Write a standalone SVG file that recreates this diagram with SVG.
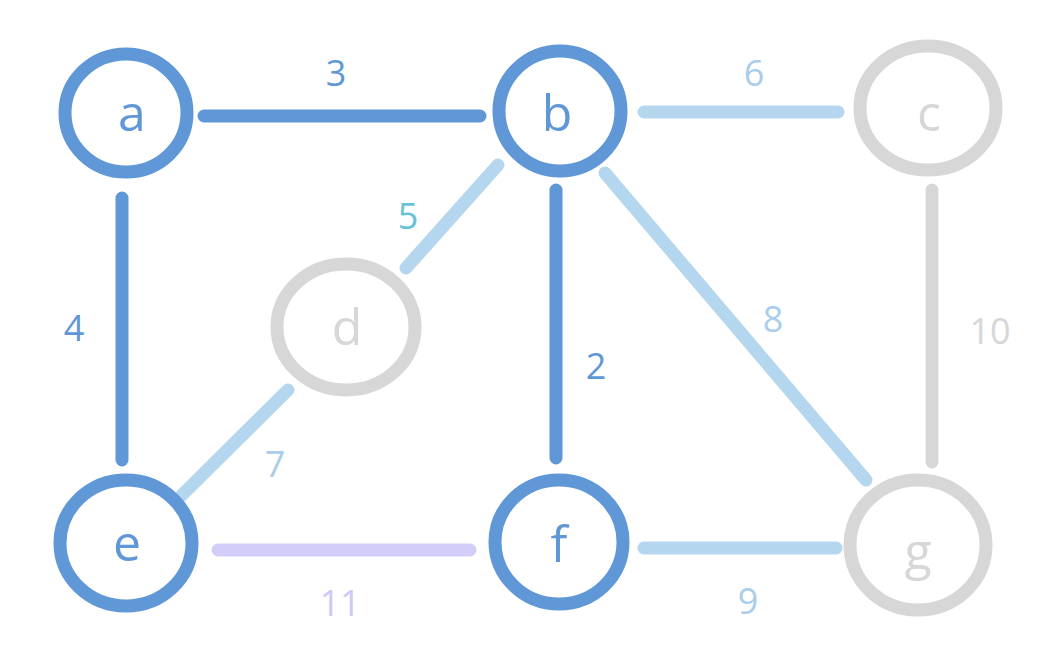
<svg xmlns="http://www.w3.org/2000/svg" width="1052" height="668" viewBox="0 0 1052 668">
<style>
.ring{fill:none;stroke-width:13;stroke-linecap:round;stroke-linejoin:round}
.dk{stroke:#5f97d7}
.gr{stroke:#d7d7d7}
.e{fill:none;stroke-width:13;stroke-linecap:round}
.lb{stroke:#b5d6ef}
.pu{stroke:#d2cdf9}
text{font-family:"Open Sans","Liberation Sans",sans-serif;text-anchor:middle;dominant-baseline:central}
.nl{font-size:50px}
.el{font-size:36px}
.tdk{fill:#5f97d7}
.tlb{fill:#a9cdeb}
.tgr{fill:#d7d7d7}
.tte{fill:#68c3d9}
.tpu{fill:#cfc9fa}
</style>
<rect width="1052" height="668" fill="#ffffff"/>
<g id="connectors">
<line class="e dk" x1="204" y1="116" x2="480" y2="116"/>
<line class="e lb" x1="644" y1="112" x2="838" y2="112"/>
<line class="e dk" x1="122" y1="198" x2="122" y2="460"/>
<line class="e lb" x1="498" y1="165" x2="406" y2="268"/>
<line class="e dk" x1="556" y1="190" x2="556" y2="458"/>
<line class="e lb" x1="605" y1="173" x2="866" y2="480"/>
<line class="e gr" x1="932" y1="190" x2="932" y2="462"/>
<line class="e lb" x1="288" y1="390" x2="182" y2="495"/>
<line class="e pu" x1="218" y1="550" x2="470" y2="550"/>
<line class="e lb" x1="644" y1="548" x2="836" y2="548"/>
<text class="el tdk" x="336" y="72">3</text>
<text class="el tlb" x="754" y="72">6</text>
<text class="el tte" x="408" y="215">5</text>
<text class="el tdk" x="74" y="327">4</text>
<text class="el tdk" x="596" y="365">2</text>
<text class="el tlb" x="773" y="318">8</text>
<text class="el tgr" x="990" y="330">10</text>
<text class="el tlb" x="275" y="463">7</text>
<text class="el tpu" x="340" y="602">11</text>
<text class="el tlb" x="748" y="600">9</text>
</g>
<g id="node-a">
<ellipse class="ring dk" cx="126" cy="113" rx="61" ry="59"/>
<text class="nl tdk" x="132" y="112">a</text>
</g>
<g id="node-b">
<ellipse class="ring dk" cx="560" cy="111" rx="61" ry="60"/>
<text class="nl tdk" x="557" y="112">b</text>
</g>
<g id="node-c">
<ellipse class="ring gr" cx="928" cy="108" rx="68" ry="62"/>
<text class="nl tgr" x="929" y="112">c</text>
</g>
<g id="node-d">
<ellipse class="ring gr" cx="346" cy="327" rx="69" ry="63"/>
<text class="nl tgr" x="347" y="326">d</text>
</g>
<g id="node-e">
<ellipse class="ring dk" cx="126" cy="543" rx="66" ry="63"/>
<text class="nl tdk" x="127" y="542">e</text>
</g>
<g id="node-f">
<ellipse class="ring dk" cx="559" cy="542" rx="64" ry="62"/>
<text class="nl tdk" x="559" y="543">f</text>
</g>
<g id="node-g">
<ellipse class="ring gr" cx="918" cy="545" rx="68" ry="65"/>
<text class="nl tgr" x="918" y="550">g</text>
</g>
</svg>
